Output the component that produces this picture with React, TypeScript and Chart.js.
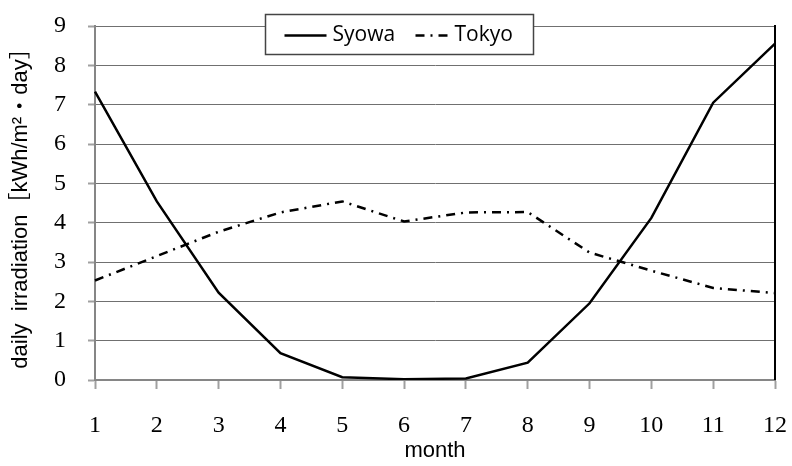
import React, { useEffect, useRef } from "react";
import { Chart, registerables } from "chart.js";

Chart.register(...registerables);

const months = ["1", "2", "3", "4", "5", "6", "7", "8", "9", "10", "11", "12"];
const syowa = [7.33, 4.54, 2.22, 0.68, 0.07, 0.02, 0.04, 0.44, 1.95, 4.12, 7.05, 8.55];
const tokyo = [2.53, 3.15, 3.77, 4.26, 4.54, 4.03, 4.26, 4.27, 3.24, 2.78, 2.34, 2.21];
const yMin = 0;
const yMax = 9;
const seriesNames = ["Syowa", "Tokyo"];
const xTitle = "month";
const yTitle = "daily  irradiation［kWh/m²・day］";

const tokyoDash = [9, 6, 2, 6];
const serif = "'Liberation Serif', serif";
const sans = "'Liberation Sans', 'Noto Sans CJK JP', sans-serif";
const legendFont = "'Open Sans', sans-serif";

const overlayPlugin = {
  id: "overlay",
  afterDraw(chart: any) {
    const { ctx, chartArea } = chart;
    ctx.save();
    ctx.strokeStyle = "#000";
    ctx.lineWidth = 2;
    ctx.beginPath();
    ctx.moveTo(chartArea.right, chartArea.top - 1);
    ctx.lineTo(chartArea.right, chartArea.bottom);
    ctx.stroke();

    const bx = chartArea.left + 170.5;
    const by = 14.5;
    const bw = 268;
    const bh = 40;
    ctx.fillStyle = "#fff";
    ctx.fillRect(bx, by, bw, bh);
    ctx.strokeStyle = "#444";
    ctx.lineWidth = 1.5;
    ctx.strokeRect(bx, by, bw, bh);
    const cy = by + bh / 2 + 1;
    ctx.strokeStyle = "#000";
    ctx.lineWidth = 2.5;
    ctx.setLineDash([]);
    ctx.beginPath();
    ctx.moveTo(bx + 19, cy);
    ctx.lineTo(bx + 61, cy);
    ctx.stroke();
    ctx.font = "21px " + legendFont;
    ctx.fillStyle = "#000";
    ctx.textBaseline = "middle";
    ctx.textAlign = "left";
    ctx.fillText(seriesNames[0], bx + 67, cy);
    ctx.setLineDash(tokyoDash);
    ctx.beginPath();
    ctx.moveTo(bx + 150, cy);
    ctx.lineTo(bx + 184, cy);
    ctx.stroke();
    ctx.setLineDash([]);
    ctx.fillText(seriesNames[1], bx + 189, cy);
    ctx.restore();
  },
};

export default function App() {
  const ref = useRef<HTMLCanvasElement>(null);
  useEffect(() => {
    let chart: any = null;
    let cancelled = false;
    const make = () => {
      if (cancelled || !ref.current) return;
      chart = new Chart(ref.current, {
        type: "line",
        data: {
          labels: months,
          datasets: [
            {
              label: seriesNames[0],
              data: syowa,
              borderColor: "#000",
              borderWidth: 2.5,
              pointRadius: 0,
              tension: 0,
              fill: false,
            },
            {
              label: seriesNames[1],
              data: tokyo,
              borderColor: "#000",
              borderWidth: 2.5,
              borderDash: tokyoDash,
              pointRadius: 0,
              tension: 0,
              fill: false,
            },
          ],
        },
        options: {
          responsive: false,
          animation: false,
          devicePixelRatio: 1,
          layout: { padding: { left: 0, right: 17, top: 26, bottom: 0 } },
          plugins: {
            legend: { display: false },
            tooltip: { enabled: false },
          },
          scales: {
            x: {
              type: "category",
              offset: false,
              afterFit(scale: any) {
                scale.height = 86;
                scale.paddingLeft = 0;
                scale.paddingRight = 0;
              },
              border: { display: true, color: "#868686", width: 2 },
              grid: {
                drawOnChartArea: false,
                drawTicks: true,
                tickLength: 9,
                tickColor: "#a0a0a0",
                tickWidth: 2,
              },
              ticks: {
                color: "#000",
                font: { family: serif, size: 24 },
                padding: 22,
                maxRotation: 0,
                autoSkip: false,
              },
              title: {
                display: true,
                text: xTitle,
                color: "#000",
                font: { family: sans, size: 22 },
                padding: { top: 0, bottom: 2 },
              },
            },
            y: {
              min: yMin,
              max: yMax,
              afterFit(scale: any) {
                scale.width = 95;
                scale.paddingTop = 0;
                scale.paddingBottom = 0;
              },
              border: { display: true, color: "#868686", width: 2 },
              grid: {
                drawTicks: true,
                tickLength: 7,
                tickColor: "#a0a0a0",
                tickWidth: 2,
                tickBorderDash: [],
                color: (c: any) => (c.tick && c.tick.value === 0 ? "rgba(0,0,0,0)" : "#707070"),
                lineWidth: 1,
                borderDash: [1, 1],
              },
              ticks: {
                stepSize: 1,
                color: "#000",
                font: { family: serif, size: 24 },
                padding: 22,
              },
              title: {
                display: true,
                text: yTitle,
                color: "#000",
                font: { family: sans, size: 22 },
                padding: { top: 8, bottom: 0 },
              },
            },
          },
        },
        plugins: [overlayPlugin],
      } as any);
    };
    const fonts = (document as any).fonts;
    if (fonts && fonts.load) {
      Promise.all([
        fonts.load("24px 'Liberation Serif'", "0123456789"),
        fonts.load("22px 'Liberation Sans'", "month daily"),
        fonts.load("21px 'Open Sans'", "SyowaTokyo"),
        fonts.load("22px 'Noto Sans CJK JP'", "［］・"),
      ])
        .catch(() => {})
        .then(make);
    } else {
      make();
    }
    return () => {
      cancelled = true;
      if (chart) chart.destroy();
    };
  }, []);
  return (
    <div style={{ position: "absolute", left: 0, top: 0, width: 792, height: 466, background: "#fff" }}>
      <canvas ref={ref} width={792} height={466} />
    </div>
  );
}
